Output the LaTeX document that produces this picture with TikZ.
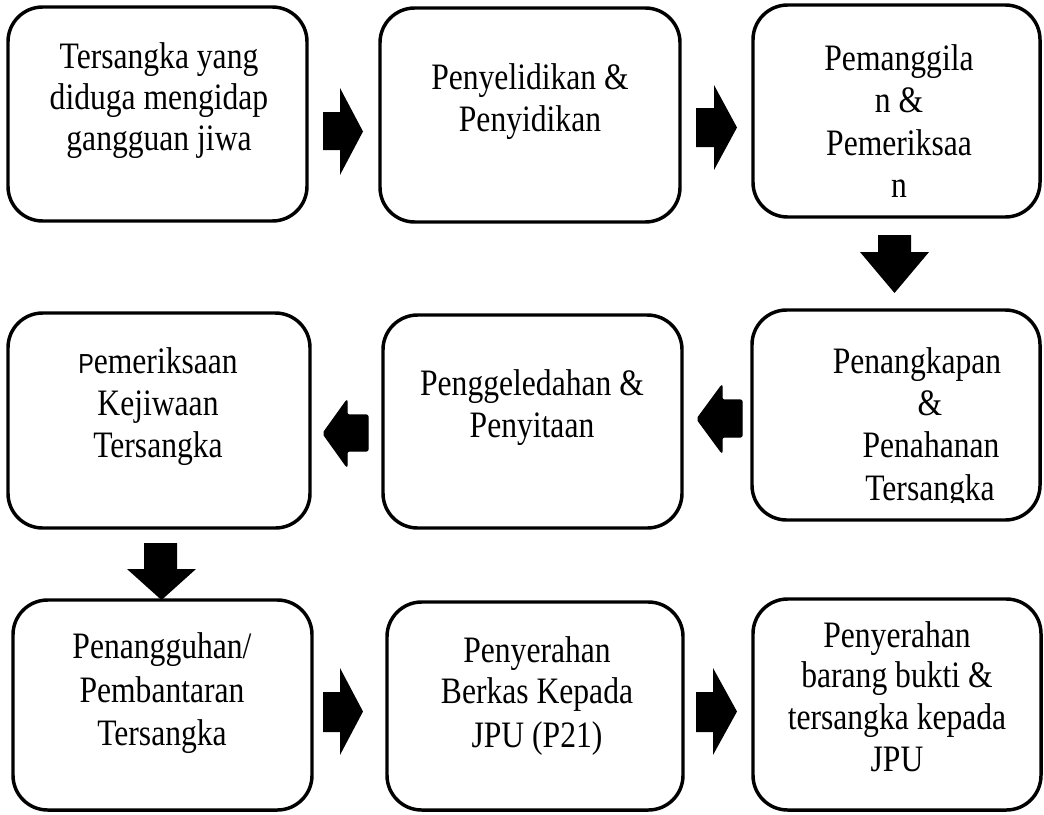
\documentclass[tikz,border=0pt]{standalone}
\usepackage{graphicx}
\usepackage{fontspec}
\setmainfont{Liberation Serif}
\newfontfamily\smallPfont{Liberation Sans}
\newcommand{\stretchtxt}[1]{\scalebox{1}[1.18]{#1}}
\begin{document}
\begin{tikzpicture}[x=0.75pt,y=-0.75pt,
  box/.style={draw, line width=2.6pt, rounded corners=26pt, fill=white, inner sep=0pt},
  txt/.style={font=\fontsize{23.7pt}{28pt}\selectfont, anchor=base, inner sep=0pt},
  blockarrow/.style={fill=black},
  blockarrowround/.style={fill=black, draw=black, line width=1pt, rounded corners=1.5pt}]
\useasboundingbox (0,0) rectangle (1044,814);

% boxes
\node[box, minimum width=224.25pt, minimum height=160.5pt] (b1) at (157.5,114) {};
\node[box, minimum width=225pt,    minimum height=160.5pt] (b2) at (530,115) {};
\node[box, minimum width=215.25pt, minimum height=159pt]   (b3) at (896.5,111) {};
\node[box, minimum width=216pt,    minimum height=157.5pt] (b4) at (896,415) {};
\node[box, minimum width=224.25pt, minimum height=159.75pt] (b5) at (532.5,421.5) {};
\node[box, minimum width=226.5pt,  minimum height=161.25pt] (b6) at (159,420.5) {};
\node[box, minimum width=224.25pt, minimum height=157.5pt] (b7) at (162.5,705) {};
\node[box, minimum width=222pt,    minimum height=156pt]   (b8) at (535,706) {};
\node[box, minimum width=216pt,    minimum height=158.25pt] (b9) at (897,704.5) {};

% texts
\node[txt] (t1a) at (159,68)  {\stretchtxt{Tersangka yang}};
\node[txt] (t1b) at (159,109) {\stretchtxt{diduga mengidap}};
\node[txt] (t1c) at (159,150) {\stretchtxt{gangguan jiwa}};

\node[txt] (t2a) at (530,89)  {\stretchtxt{Penyelidikan \&}};
\node[txt] (t2b) at (530,131) {\stretchtxt{Penyidikan}};

\node[txt] (t3a) at (899,70)  {\stretchtxt{Pemanggila}};
\node[txt] (t3b) at (899,112) {\stretchtxt{n \&}};
\node[txt] (t3c) at (899,155) {\stretchtxt{Pemeriksaa}};
\node[txt] (t3d) at (899,197) {\stretchtxt{n}};

\node[txt] (t4a) at (917,373) {\stretchtxt{Penangkapan}};
\node[txt] (t4b) at (930,415) {\stretchtxt{\&}};
\node[txt] (t4c) at (931,457) {\stretchtxt{Penahanan}};
\begin{scope}
  \clip (752,300) rectangle (1044,502);
  \node[txt] (t4d) at (930,500) {\stretchtxt{Tersangka}};
\end{scope}

\node[txt] (t5a) at (532,395) {\stretchtxt{Penggeledahan \&}};
\node[txt] (t5b) at (532,437) {\stretchtxt{Penyitaan}};

\node[txt] (t6a) at (158,373) {\stretchtxt{{\smallPfont\fontsize{17.5pt}{20pt}\selectfont P}emeriksaan}};
\node[txt] (t6b) at (158,415) {\stretchtxt{Kejiwaan}};
\node[txt] (t6c) at (158,457) {\stretchtxt{Tersangka}};

\node[txt] (t7a) at (162,658) {\stretchtxt{Penangguhan/}};
\node[txt] (t7b) at (162,702) {\stretchtxt{Pembantaran}};
\node[txt] (t7c) at (162,745) {\stretchtxt{Tersangka}};

\node[txt] (t8a) at (537,662) {\stretchtxt{Penyerahan}};
\node[txt] (t8b) at (537,703) {\stretchtxt{Berkas Kepada}};
\node[txt] (t8c) at (537,747) {\stretchtxt{JPU (P21)}};

\node[txt] (t9a) at (897,647) {\stretchtxt{Penyerahan}};
\node[txt] (t9b) at (897,687) {\stretchtxt{barang bukti \&}};
\node[txt] (t9c) at (897,729) {\stretchtxt{tersangka kepada}};
\node[txt] (t9d) at (897,771) {\stretchtxt{JPU}};

% block arrows
\fill[blockarrow] (323,112) -- (340,112) -- (340,88) -- (363,131.5) -- (340,175) -- (340,150) -- (323,150) -- cycle;
\fill[blockarrow] (696,108) -- (714,108) -- (714,85) -- (737,127.5) -- (714,170) -- (714,147) -- (696,147) -- cycle;
\fill[blockarrow] (878,235) -- (911,235) -- (911,252) -- (929,252) -- (894.5,293) -- (860,252) -- (878,252) -- cycle;
\filldraw[blockarrowround] (742,400) -- (722,400) -- (722,385) -- (697,419) -- (722,453) -- (722,437) -- (742,437) -- cycle;
\filldraw[blockarrowround] (368,415) -- (347,415) -- (347,400) -- (323,433.5) -- (347,467) -- (347,451) -- (368,451) -- cycle;
\fill[blockarrow] (144,543) -- (177,543) -- (177,569) -- (196,569) -- (161.5,600) -- (127,569) -- (144,569) -- cycle;
\fill[blockarrow] (323,692) -- (340,692) -- (340,668) -- (363,711.5) -- (340,755) -- (340,732) -- (323,732) -- cycle;
\fill[blockarrow] (696,692) -- (713,692) -- (713,668) -- (737,711.5) -- (713,755) -- (713,732) -- (696,732) -- cycle;
\end{tikzpicture}
\end{document}
